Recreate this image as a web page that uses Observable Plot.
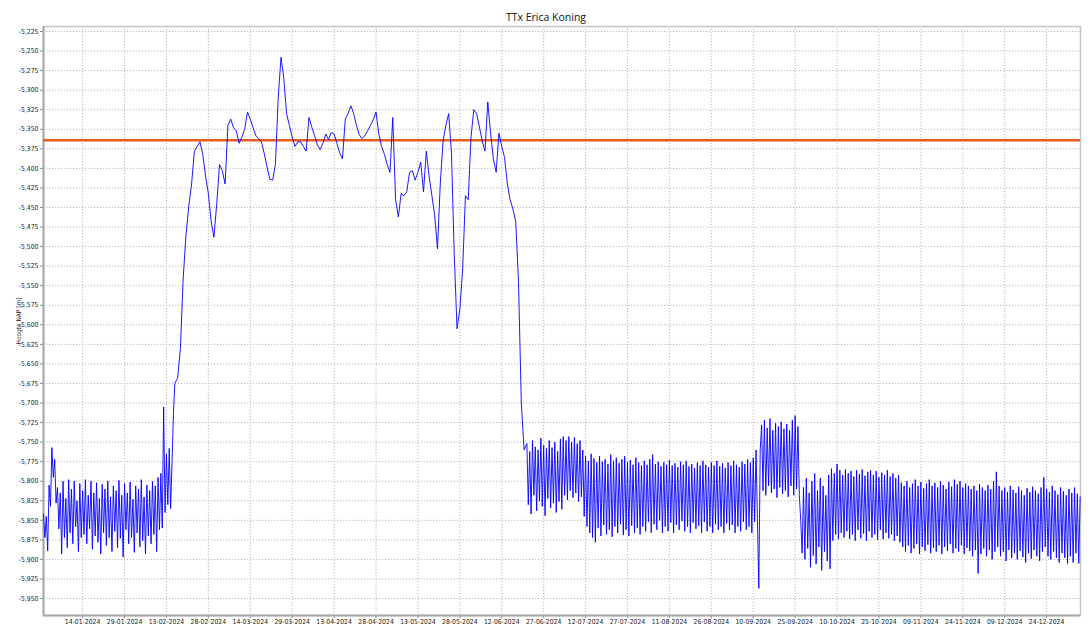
<!DOCTYPE html>
<html>
<head>
<meta charset="utf-8">
<script src="https://cdn.jsdelivr.net/npm/d3@7"></script>
<script src="https://cdn.jsdelivr.net/npm/@observablehq/plot@0.6"></script>
<style>
  html, body { margin: 0; padding: 0; background: #fff; }
  #chart svg { display: block; }
</style>
</head>
<body>
<div id="chart"></div>
<script>
// ---- Chart text ----
const title = "TTx Erica Koning";
const yLabel = "Hoogte NAP [m]";

// ---- Reference level (orange line) ----
const referenceLevel = [-5.364];

// ---- Tick labels ----
const yTicks = [-5.225, -5.250, -5.275, -5.300, -5.325, -5.350, -5.375, -5.400, -5.425, -5.450,
  -5.475, -5.500, -5.525, -5.550, -5.575, -5.600, -5.625, -5.650, -5.675, -5.700,
  -5.725, -5.750, -5.775, -5.800, -5.825, -5.850, -5.875, -5.900, -5.925, -5.950];
const xTicks = ["2024-01-14", "2024-01-29", "2024-02-13", "2024-02-28", "2024-03-14", "2024-03-29",
  "2024-04-13", "2024-04-28", "2024-05-13", "2024-05-28", "2024-06-12", "2024-06-27",
  "2024-07-12", "2024-07-27", "2024-08-11", "2024-08-26", "2024-09-10", "2024-09-25",
  "2024-10-10", "2024-10-25", "2024-11-09", "2024-11-24", "2024-12-09", "2024-12-24"];

// ---- Series (Hoogte NAP, m) ----
// 31-12-2023 .. 15-02-2024, twice a day
const winterStart = "2023-12-31T00:00Z";
const winterValues = [
  -5.842, -5.872, -5.845, -5.889, -5.805, -5.832, -5.757, -5.795, -5.772, -5.828,
  -5.808, -5.861, -5.815, -5.893, -5.800, -5.872, -5.822, -5.885, -5.798, -5.866,
  -5.810, -5.880, -5.800, -5.858, -5.825, -5.890, -5.803, -5.872, -5.812, -5.868,
  -5.798, -5.880, -5.818, -5.861, -5.800, -5.887, -5.815, -5.870, -5.802, -5.878,
  -5.822, -5.893, -5.804, -5.866, -5.810, -5.882, -5.800, -5.872, -5.820, -5.890,
  -5.806, -5.864, -5.812, -5.885, -5.799, -5.873, -5.818, -5.897, -5.803, -5.862,
  -5.815, -5.880, -5.801, -5.872, -5.823, -5.891, -5.806, -5.866, -5.810, -5.884,
  -5.798, -5.876, -5.820, -5.893, -5.805, -5.870, -5.812, -5.880, -5.800, -5.868,
  -5.806, -5.890, -5.795, -5.862, -5.790, -5.860, -5.705, -5.840, -5.765, -5.830,
  -5.758, -5.835, -5.775, -5.715
];
// 16-02-2024 .. 20-06-2024, daily
const springStart = "2024-02-16T00:00Z";
const springValues = [
  -5.675, -5.668, -5.630, -5.540, -5.485, -5.448, -5.420, -5.378, -5.372, -5.366,
  -5.382, -5.410, -5.432, -5.468, -5.488, -5.445, -5.395, -5.403, -5.420, -5.345,
  -5.337, -5.348, -5.352, -5.368, -5.360, -5.350, -5.328, -5.337, -5.348, -5.358,
  -5.362, -5.366, -5.381, -5.398, -5.414, -5.415, -5.395, -5.310, -5.258, -5.285,
  -5.330, -5.345, -5.360, -5.372, -5.366, -5.366, -5.372, -5.378, -5.335, -5.347,
  -5.358, -5.370, -5.376, -5.368, -5.356, -5.363, -5.354, -5.356, -5.368, -5.380,
  -5.388, -5.337, -5.330, -5.320, -5.330, -5.345, -5.357, -5.362, -5.358, -5.352,
  -5.345, -5.338, -5.328, -5.356, -5.372, -5.382, -5.395, -5.405, -5.335, -5.440,
  -5.462, -5.432, -5.435, -5.430, -5.405, -5.403, -5.415, -5.405, -5.392, -5.430,
  -5.378, -5.410, -5.435, -5.460, -5.503, -5.420, -5.365, -5.345, -5.330, -5.380,
  -5.510, -5.605, -5.580, -5.530, -5.435, -5.440, -5.360, -5.325, -5.330, -5.347,
  -5.365, -5.378, -5.315, -5.355, -5.388, -5.405, -5.355, -5.372, -5.386, -5.420,
  -5.440, -5.452, -5.468, -5.545, -5.700, -5.760
];
// 21-06-2024 .. 05-01-2025, twice a day
const summerStart = "2024-06-21T00:00Z";
const junValues = [
  -5.752, -5.830, -5.762, -5.842, -5.748, -5.818, -5.756, -5.838, -5.760, -5.825,
  -5.745, -5.832, -5.754, -5.844, -5.758, -5.822, -5.748, -5.834, -5.757, -5.828
];
const julValues = [
  -5.750, -5.840, -5.762, -5.826, -5.746, -5.836, -5.743, -5.818, -5.748, -5.824,
  -5.743, -5.812, -5.750, -5.821, -5.744, -5.815, -5.752, -5.826, -5.748, -5.820,
  -5.760, -5.845, -5.768, -5.858, -5.774, -5.866, -5.765, -5.872, -5.771, -5.878,
  -5.776, -5.860, -5.768, -5.870, -5.775, -5.856, -5.772, -5.868, -5.778, -5.862,
  -5.766, -5.871, -5.774, -5.858, -5.770, -5.866, -5.777, -5.855, -5.772, -5.869,
  -5.768, -5.862, -5.776, -5.870, -5.773, -5.857, -5.779, -5.866, -5.770, -5.860,
  -5.776, -5.868
];
const augValues = [
  -5.780, -5.858, -5.774, -5.864, -5.779, -5.852, -5.772, -5.866, -5.766, -5.855,
  -5.778, -5.862, -5.775, -5.850, -5.781, -5.866, -5.776, -5.858, -5.779, -5.864,
  -5.773, -5.853, -5.780, -5.866, -5.777, -5.856, -5.782, -5.862, -5.775, -5.851,
  -5.779, -5.864, -5.774, -5.858, -5.781, -5.866, -5.778, -5.853, -5.783, -5.861,
  -5.776, -5.857, -5.780, -5.866, -5.774, -5.852, -5.779, -5.864, -5.782, -5.858,
  -5.776, -5.866, -5.780, -5.855, -5.774, -5.862, -5.781, -5.858, -5.777, -5.866,
  -5.783, -5.854
];
const sepValues = [
  -5.776, -5.862, -5.780, -5.856, -5.774, -5.866, -5.779, -5.858, -5.782, -5.864,
  -5.775, -5.852, -5.778, -5.862, -5.772, -5.858, -5.776, -5.866, -5.770, -5.852,
  -5.760, -5.848, -5.937, -5.760, -5.728, -5.812, -5.722, -5.818, -5.732, -5.806,
  -5.720, -5.815, -5.735, -5.810, -5.726, -5.821, -5.730, -5.808, -5.724, -5.816,
  -5.733, -5.812, -5.727, -5.820, -5.735, -5.806, -5.722, -5.818, -5.716, -5.810,
  -5.730, -5.818, -5.850, -5.892, -5.808, -5.900, -5.796, -5.886, -5.815, -5.910
];
const octValues = [
  -5.800, -5.895, -5.790, -5.906, -5.812, -5.884, -5.796, -5.914, -5.806, -5.890,
  -5.818, -5.902, -5.792, -5.912, -5.784, -5.876, -5.790, -5.868, -5.778, -5.874,
  -5.786, -5.866, -5.792, -5.872, -5.785, -5.864, -5.790, -5.874, -5.787, -5.868,
  -5.794, -5.876, -5.786, -5.862, -5.791, -5.873, -5.785, -5.867, -5.793, -5.876,
  -5.788, -5.864, -5.786, -5.872, -5.792, -5.868, -5.787, -5.875, -5.795, -5.862,
  -5.789, -5.874, -5.792, -5.866, -5.786, -5.873, -5.794, -5.868, -5.790, -5.876,
  -5.796, -5.870
];
const novValues = [
  -5.792, -5.878, -5.802, -5.884, -5.806, -5.890, -5.800, -5.882, -5.808, -5.892,
  -5.803, -5.886, -5.798, -5.880, -5.806, -5.893, -5.801, -5.884, -5.809, -5.889,
  -5.803, -5.881, -5.798, -5.892, -5.806, -5.885, -5.802, -5.890, -5.808, -5.882,
  -5.800, -5.893, -5.805, -5.884, -5.810, -5.889, -5.801, -5.880, -5.807, -5.892,
  -5.798, -5.886, -5.804, -5.890, -5.800, -5.882, -5.808, -5.893, -5.803, -5.885,
  -5.806, -5.889, -5.810, -5.896, -5.806, -5.888, -5.812, -5.918, -5.804, -5.893
];
const decValues = [
  -5.808, -5.886, -5.812, -5.896, -5.805, -5.888, -5.810, -5.900, -5.800, -5.890,
  -5.788, -5.884, -5.806, -5.896, -5.812, -5.890, -5.808, -5.902, -5.814, -5.888,
  -5.806, -5.898, -5.811, -5.892, -5.815, -5.900, -5.807, -5.889, -5.812, -5.897,
  -5.818, -5.904, -5.809, -5.892, -5.814, -5.899, -5.807, -5.888, -5.812, -5.896,
  -5.816, -5.902, -5.808, -5.890, -5.795, -5.884, -5.810, -5.896, -5.814, -5.900,
  -5.806, -5.890, -5.812, -5.898, -5.817, -5.904, -5.808, -5.892, -5.813, -5.898,
  -5.818, -5.905
];
const jan25Values = [
  -5.810, -5.896, -5.815, -5.904, -5.808, -5.892, -5.816, -5.905, -5.820
];

// ---- Build rows ----
function series(start, stepHours, values) {
  const t0 = new Date(start).getTime();
  return values.map((v, i) => ({date: new Date(t0 + i * stepHours * 3600e3), level: v}));
}
const rows = [
  ...series(winterStart, 12, winterValues),
  ...series(springStart, 24, springValues),
  ...series(summerStart, 12, [...junValues, ...julValues, ...augValues, ...sepValues,
                              ...octValues, ...novValues, ...decValues, ...jan25Values])
];

const xDomain = [new Date("2023-12-31T00:00Z"), new Date("2025-01-05T03:00Z")];
const yDomain = [-5.9717, -5.2186];
const xTickDates = xTicks.map(d => new Date(d + "T00:00Z"));
const fmtY = d => d.toFixed(3).replace(".", ",");
const fmtX = d3.utcFormat("%d-%m-%Y");
const tickFont = "'Liberation Sans Narrow', 'DejaVu Sans Condensed', 'Open Sans', sans-serif";

const chart = Plot.plot({
  width: 1091,
  height: 634,
  marginLeft: 43,
  marginRight: 11,
  marginTop: 26,
  marginBottom: 19,
  style: {fontFamily: tickFont, fontSize: "7px", color: "#222", background: "#fff"},
  x: {type: "utc", domain: xDomain},
  y: {domain: yDomain},
  marks: [
    Plot.gridY(yTicks, {stroke: "#b8b8b8", strokeOpacity: 1, strokeDasharray: "1.2,1.8"}),
    Plot.gridX(xTickDates, {stroke: "#b8b8b8", strokeOpacity: 1, strokeDasharray: "1.2,1.8"}),
    Plot.frame({stroke: "#c4c4c4", strokeWidth: 1.5}),
    Plot.axisY(yTicks, {tickFormat: fmtY, tickSize: 3, tickPadding: 2, label: null, stroke: "#888", fontSize: 6.8}),
    Plot.axisX(xTickDates, {tickFormat: fmtX, tickSize: 3, tickPadding: 1, label: null, stroke: "#888", fontSize: 6.8}),
    Plot.ruleX([xDomain[0]], {stroke: "#a8a8a8", strokeWidth: 2}),
    Plot.ruleY([yDomain[0]], {stroke: "#a8a8a8", strokeWidth: 2}),
    Plot.ruleY(referenceLevel, {stroke: "#e85a1e", strokeWidth: 2.6}),
    Plot.line(rows, {x: "date", y: "level", stroke: "#0000ff", strokeWidth: 1, strokeOpacity: 0.9}),
    Plot.text([title], {frameAnchor: "top", lineAnchor: "middle", textAnchor: "middle", dx: -16, dy: -9, fontSize: 10.5, fontFamily: "'Open Sans', sans-serif", fill: "#111"}),
    Plot.text([yLabel], {frameAnchor: "left", textAnchor: "middle", lineAnchor: "middle", dx: -25, rotate: -90, fontSize: 6.5, fill: "#222"})
  ]
});
document.getElementById("chart").appendChild(chart);
</script>
</body>
</html>
